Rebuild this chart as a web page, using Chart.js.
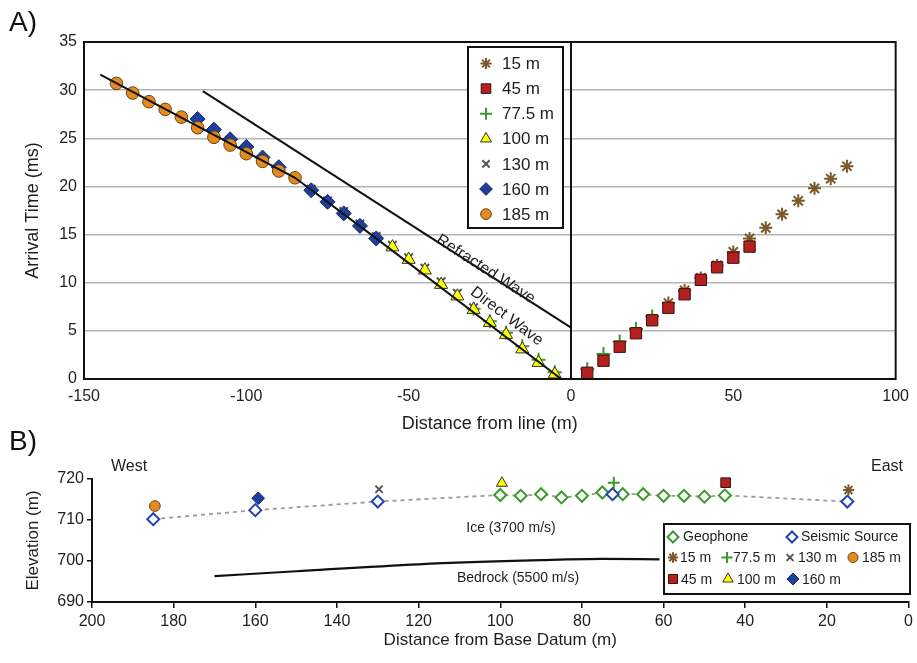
<!DOCTYPE html>
<html>
<head>
<meta charset="utf-8">
<title>Seismic refraction arrival times</title>
<script src="https://cdn.jsdelivr.net/npm/chart.js@4.4.0/dist/chart.umd.min.js"></script>
<style>
  html, body { margin: 0; padding: 0; background: #fff; }
  #wrap { position: relative; width: 917px; height: 663px; overflow: hidden; }
  #cA { position: absolute; left: 0; top: 0; }
  #cB { position: absolute; left: 0; top: 440px; }
  .panel { position: absolute; left: 9px; font: 28px "Liberation Sans", Arial, sans-serif; color: #111; }
</style>
</head>
<body>
<div id="wrap">
  <canvas id="cA" width="917" height="440"></canvas>
  <canvas id="cB" width="917" height="223"></canvas>
  <div class="panel" style="top:6px">A)</div>
  <div class="panel" style="top:425px">B)</div>
</div>
<script>
// ---------- A) arrival time vs distance from line ----------
const xTicksA = [-150, -100, -50, 0, 50, 100];
const yTicksA = [0, 5, 10, 15, 20, 25, 30, 35];

const x15 = [30, 35, 40, 45, 50, 55, 60, 65, 70, 75, 80, 85];
const y15 = [7.9, 9.2, 10.5, 11.8, 13.2, 14.6, 15.7, 17.1, 18.5, 19.8, 20.8, 22.1];
const x45 = [5, 10, 15, 20, 25, 30, 35, 40, 45, 50, 55];
const y45 = [0.65, 1.9, 3.35, 4.75, 6.1, 7.4, 8.8, 10.3, 11.6, 12.6, 13.75];
const x775 = [-30, -25, -20, -15, -10, -5, 5, 10, 15, 20, 25];
const y775 = [7.3, 6.0, 4.8, 3.4, 2.0, 0.7, 1.0, 2.6, 3.9, 5.2, 6.5];
const x100 = [-55, -50, -45, -40, -35, -30, -25, -20, -15, -10, -5];
const y100 = [13.7, 12.4, 11.3, 9.8, 8.6, 7.2, 5.85, 4.6, 3.1, 1.7, 0.5];
const x130 = [-85, -80, -75, -70, -65, -60, -55, -50, -45, -40, -35, -30];
const y130 = [20.9, 19.7, 18.5, 17.4, 16.1, 14.8, 13.9, 12.6, 11.5, 10.1, 8.9, 7.4];
const x160 = [-115, -110, -105, -100, -95, -90, -80, -75, -70, -65, -60];
const y160 = [27.0, 25.9, 24.9, 24.1, 23.0, 22.0, 19.6, 18.4, 17.2, 15.9, 14.6];
const x185 = [-140, -135, -130, -125, -120, -115, -110, -105, -100, -95, -90, -85];
const y185 = [30.7, 29.7, 28.8, 28.0, 27.2, 26.1, 25.1, 24.3, 23.4, 22.6, 21.6, 20.9];

// fitted lines
const directX = [-145, -85, -60, -3];
const directY = [31.6, 20.9, 14.6, 0];
const refractX = [-113.4, 0];
const refractY = [29.9, 5.33];
const zeroX = [0, 0];
const zeroY = [0, 35];

// ---------- B) survey geometry ----------
const xTicksB = [200, 180, 160, 140, 120, 100, 80, 60, 40, 20, 0];
const yTicksB = [690, 700, 710, 720];
const geoX = [100, 95, 90, 85, 80, 75, 70, 65, 60, 55, 50, 45];
const geoY = [716.1, 715.9, 716.3, 715.5, 715.9, 716.7, 716.3, 716.3, 715.9, 715.9, 715.7, 716.0];
const srcX = [185, 160, 130, 72.5, 15];
const srcY = [710.2, 712.4, 714.5, 716.3, 714.5];
const shotLabels = ['15 m', '45 m', '77.5 m', '100 m', '130 m', '160 m', '185 m'];
const shotX = [14.7, 44.8, 72.2, 99.6, 129.7, 159.3, 184.6];
const shotY = [717.3, 719.1, 719.1, 719.0, 717.5, 715.3, 713.4];
const bedX = [170, 150, 120, 90, 75, 61];
const bedY = [696.3, 697.5, 699.2, 700.2, 700.5, 700.4];

const FONT = '"Liberation Sans", Arial, Helvetica, sans-serif';
Chart.defaults.font.family = FONT;
Chart.defaults.color = '#1e1e1e';
Chart.defaults.animation = false;

const STY = {
  '15 m':   { ps: 'star',     bg: '#7a5a2a', bd: '#7a5a2a', r: 6.5, bw: 2 },
  '45 m':   { ps: 'rect',     bg: '#b41f1f', bd: '#3e0e0e', r: 8,   bw: 1 },
  '77.5 m': { ps: 'cross',    bg: '#3a9a2c', bd: '#3a9a2c', r: 7,   bw: 2 },
  '100 m':  { ps: 'triangle', bg: '#ffff00', bd: '#333333', r: 7.5, bw: 1 },
  '130 m':  { ps: 'crossRot', bg: '#555555', bd: '#555555', r: 6,   bw: 2 },
  '160 m':  { ps: 'rectRot',  bg: '#1f3f9c', bd: '#13286a', r: 7.5, bw: 1 },
  '185 m':  { ps: 'circle',   bg: '#e38a20', bd: '#6a4210', r: 6.3, bw: 1 }
};

function pts(xs, ys) { return xs.map((x, i) => ({ x: x, y: ys[i] })); }

function markers(label, xs, ys, order, k) {
  const s = STY[label];
  return {
    label: label, data: pts(xs, ys), showLine: false, order: order, clip: false,
    pointStyle: s.ps, pointRadius: s.r * k, pointHoverRadius: s.r * k,
    pointBackgroundColor: s.bg, pointBorderColor: s.bd, pointBorderWidth: s.bw
  };
}

function lineSet(xs, ys, extra) {
  return Object.assign({
    data: pts(xs, ys), showLine: true, pointRadius: 0, borderColor: '#111',
    borderWidth: 2, order: 0, fill: false
  }, extra || {});
}

function drawMarker(ctx, label, x, y, k) {
  const s = STY[label];
  ctx.save();
  ctx.fillStyle = s.bg; ctx.strokeStyle = s.bd; ctx.lineWidth = s.bw;
  Chart.helpers.drawPoint(ctx, { pointStyle: s.ps, radius: s.r * k, rotation: 0, borderWidth: s.bw }, x, y);
  ctx.restore();
}

function drawOpenDiamond(ctx, color, x, y, r) {
  ctx.save();
  ctx.fillStyle = '#fff'; ctx.strokeStyle = color; ctx.lineWidth = 2;
  Chart.helpers.drawPoint(ctx, { pointStyle: 'rectRot', radius: r, rotation: 0, borderWidth: 2 }, x, y);
  ctx.restore();
}

// ---------- chart A ----------
const plotA = {
  id: 'plotA',
  afterDraw(chart) {
    const { ctx, chartArea: a, scales: { x, y } } = chart;
    ctx.save();
    ctx.strokeStyle = '#111'; ctx.lineWidth = 2;
    ctx.strokeRect(a.left, a.top, a.right - a.left, a.bottom - a.top);

    // labels along the two lines
    const rot = (txt, cx, cy, xs, ys, i) => {
      const ang = Math.atan2(y.getPixelForValue(ys[i + 1]) - y.getPixelForValue(ys[i]),
                             x.getPixelForValue(xs[i + 1]) - x.getPixelForValue(xs[i]));
      ctx.save();
      ctx.translate(x.getPixelForValue(cx), y.getPixelForValue(cy));
      ctx.rotate(ang);
      ctx.font = '16px ' + FONT; ctx.fillStyle = '#1e1e1e';
      ctx.textAlign = 'center'; ctx.textBaseline = 'middle';
      ctx.fillText(txt, 0, 0);
      ctx.restore();
    };
    rot('Refracted Wave', -26.3, 11.4, refractX, refractY, 0);
    rot('Direct Wave', -19.8, 6.5, directX, directY, 2);

    // legend box
    const L = 468, T = 47, W = 95, H = 181;
    ctx.fillStyle = '#fff';
    ctx.fillRect(L, T, W, H);
    ctx.lineWidth = 2; ctx.strokeStyle = '#111';
    ctx.strokeRect(L, T, W, H);
    ctx.font = '17px ' + FONT; ctx.fillStyle = '#1e1e1e';
    ctx.textAlign = 'left'; ctx.textBaseline = 'middle';
    shotLabels.forEach((lab, i) => {
      const yy = 63.5 + i * 25.1;
      drawMarker(ctx, lab, 486, yy, 0.85);
      ctx.fillText(lab, 502, yy + 1);
    });
    ctx.restore();
  }
};

new Chart(document.getElementById('cA'), {
  type: 'scatter',
  data: {
    datasets: [
      lineSet(directX, directY),
      lineSet(refractX, refractY),
      lineSet(zeroX, zeroY),
      markers('15 m', x15, y15, 4, 1),
      markers('45 m', x45, y45, 1, 1),
      markers('77.5 m', x775, y775, 3, 1),
      markers('100 m', x100, y100, 1, 1),
      markers('130 m', x130, y130, 3, 1),
      markers('160 m', x160, y160, 2, 1),
      markers('185 m', x185, y185, 1, 1)
    ]
  },
  options: {
    responsive: false,
    layout: { padding: { left: 0, right: 17, top: 42, bottom: 0 } },
    plugins: { legend: { display: false }, tooltip: { enabled: false } },
    scales: {
      x: {
        type: 'linear', min: -150, max: 100,
        afterBuildTicks: s => { s.ticks = xTicksA.map(v => ({ value: v })); },
        afterFit: s => { s.height = 61; },
        grid: { display: false, drawTicks: false },
        border: { display: true, color: '#111', width: 2 },
        ticks: { padding: 8, font: { size: 16 }, color: '#1e1e1e' },
        title: { display: true, text: 'Distance from line (m)', font: { size: 18 }, padding: { top: 0, bottom: 5 } }
      },
      y: {
        type: 'linear', min: 0, max: 35,
        afterBuildTicks: s => { s.ticks = yTicksA.map(v => ({ value: v })); },
        afterFit: s => { s.width = 84; },
        grid: { color: '#b4b4b4', lineWidth: 1.5, drawTicks: false },
        border: { display: true, color: '#111', width: 2 },
        ticks: { padding: 7, font: { size: 16 }, color: '#1e1e1e' },
        title: { display: true, text: 'Arrival Time (ms)', font: { size: 18 }, padding: { top: 22, bottom: 0 } }
      }
    }
  },
  plugins: [plotA]
});

// ---------- chart B ----------
const surf = geoX.map((x, i) => ({ x: x, y: geoY[i] }))
  .concat(srcX.map((x, i) => ({ x: x, y: srcY[i] })))
  .sort((a, b) => b.x - a.x);

const plotB = {
  id: 'plotB',
  afterDraw(chart) {
    const { ctx } = chart;
    ctx.save();
    ctx.fillStyle = '#1e1e1e';
    ctx.textAlign = 'center'; ctx.textBaseline = 'middle';
    ctx.font = '16px ' + FONT;
    ctx.fillText('West', 129, 27);
    ctx.fillText('East', 887, 27);
    ctx.font = '14px ' + FONT;
    ctx.fillText('Ice (3700 m/s)', 511, 88);
    ctx.fillText('Bedrock (5500 m/s)', 518, 138);

    // legend box
    const L = 664, T = 84, W = 246, H = 70;
    ctx.fillStyle = '#fff';
    ctx.fillRect(L, T, W, H);
    ctx.lineWidth = 2; ctx.strokeStyle = '#111';
    ctx.strokeRect(L, T, W, H);
    ctx.fillStyle = '#1e1e1e';
    ctx.textAlign = 'left';
    ctx.font = '14px ' + FONT;
    drawOpenDiamond(ctx, '#3a9a2c', 673, 97, 5.5);
    ctx.fillText('Geophone', 683, 97);
    drawOpenDiamond(ctx, '#2343b0', 792, 97, 5.5);
    ctx.fillText('Seismic Source', 801, 97);
    const cells = [
      ['15 m', 673, 117.5, 680], ['77.5 m', 727, 117.5, 733], ['130 m', 790, 117.5, 798], ['185 m', 853, 117.5, 862],
      ['45 m', 673, 139, 681], ['100 m', 728, 139, 737], ['160 m', 793, 139, 802]
    ];
    cells.forEach(c => {
      drawMarker(ctx, c[0], c[1], c[2], 0.8);
      ctx.fillStyle = '#1e1e1e';
      ctx.fillText(c[0], c[3], c[2] + 1);
    });
    ctx.restore();
  }
};

const shotSets = shotLabels.map((lab, i) => markers(lab, [shotX[i]], [shotY[i]], 1, 0.85));

new Chart(document.getElementById('cB'), {
  type: 'scatter',
  data: {
    datasets: shotSets.concat([
      {
        label: 'Geophone', data: pts(geoX, geoY), showLine: false, order: 2, clip: false,
        pointStyle: 'rectRot', pointRadius: 6, pointBackgroundColor: '#fff',
        pointBorderColor: '#3a9a2c', pointBorderWidth: 2
      },
      {
        label: 'Seismic Source', data: pts(srcX, srcY), showLine: false, order: 1, clip: false,
        pointStyle: 'rectRot', pointRadius: 6, pointBackgroundColor: '#fff',
        pointBorderColor: '#2343b0', pointBorderWidth: 2
      },
      lineSet(surf.map(p => p.x), surf.map(p => p.y),
        { borderColor: '#9a9a9a', borderWidth: 1.8, borderDash: [4, 4], order: 5 }),
      lineSet(bedX, bedY, { borderColor: '#111', borderWidth: 2.2, tension: 0.4, cubicInterpolationMode: 'monotone', order: 6 })
    ])
  },
  options: {
    responsive: false,
    layout: { padding: { left: 0, right: 6, top: 39, bottom: 0 } },
    plugins: { legend: { display: false }, tooltip: { enabled: false } },
    scales: {
      x: {
        type: 'linear', min: 0, max: 200, reverse: true,
        afterBuildTicks: s => { s.ticks = xTicksB.map(v => ({ value: v })); },
        afterFit: s => { s.height = 61; },
        grid: { drawOnChartArea: false, drawTicks: true, tickLength: 6, color: '#111', tickColor: '#111', lineWidth: 1.5 },
        border: { display: true, color: '#111', width: 2 },
        ticks: { padding: 4, font: { size: 16 }, color: '#1e1e1e' },
        title: { display: true, text: 'Distance from Base Datum (m)', font: { size: 17 }, padding: { top: 0, bottom: 12 } }
      },
      y: {
        type: 'linear', min: 690, max: 720,
        afterBuildTicks: s => { s.ticks = yTicksB.map(v => ({ value: v })); },
        afterFit: s => { s.width = 92; },
        grid: { drawOnChartArea: false, drawTicks: true, tickLength: 5, color: '#111', tickColor: '#111', lineWidth: 1.5 },
        border: { display: true, color: '#111', width: 2 },
        ticks: { padding: 3, font: { size: 16 }, color: '#1e1e1e' },
        title: { display: true, text: 'Elevation (m)', font: { size: 17 }, padding: { top: 23, bottom: 0 } }
      }
    }
  },
  plugins: [plotB]
});
</script>
</body>
</html>
